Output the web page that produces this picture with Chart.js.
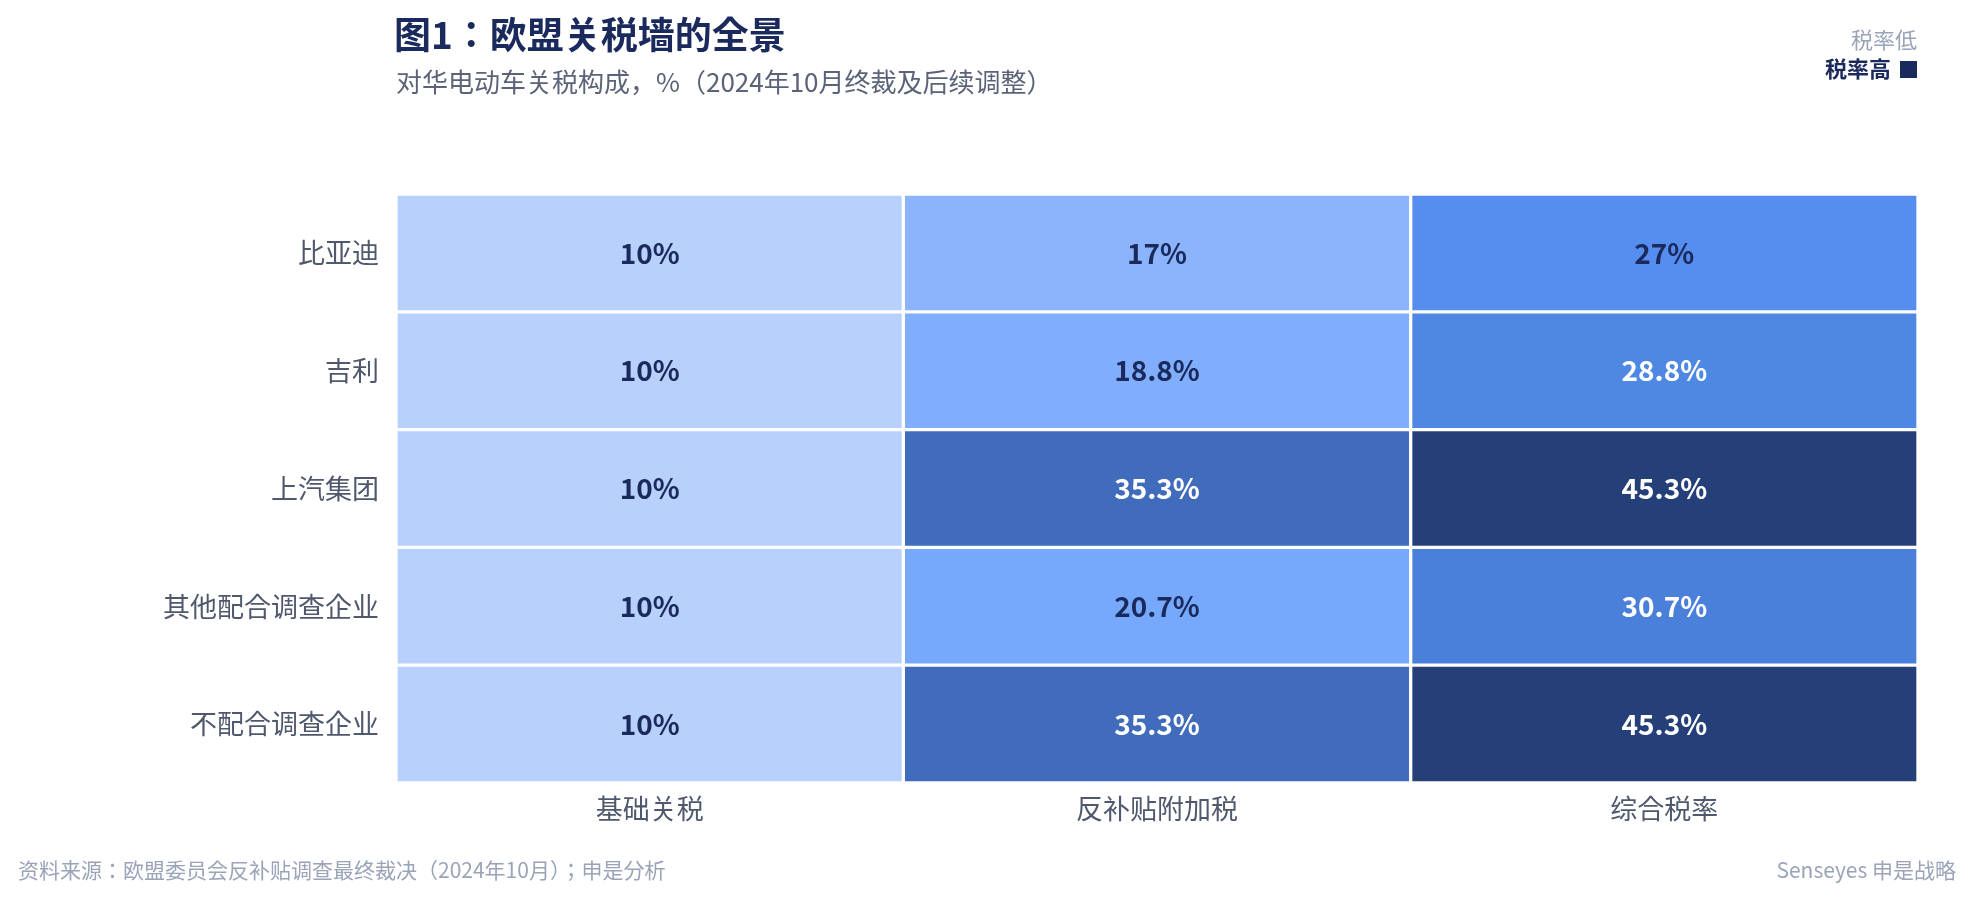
<!DOCTYPE html><html><head><meta charset="utf-8">
<script src="https://cdn.jsdelivr.net/npm/chart.js@4"></script>
<style>
body{margin:0;background:#fff;font-family:"Noto Sans CJK JP","Noto Sans",sans-serif;}
#wrap{position:relative;width:1976px;height:901px;}
.t{position:absolute;white-space:nowrap;}
</style></head><body>
<div id="wrap"><canvas id="c" width="1976" height="901"></canvas>
<div class="t" style="left:394px;top:6px;font-size:37px;font-weight:700;color:#1b2a5c;">图1：欧盟关税墙的全景</div>
<div class="t" style="left:396px;top:62px;font-size:26px;color:#5b6378;">对华电动车关税构成，%（2024年10月终裁及后续调整）</div>
<div class="t" style="right:59px;top:22px;font-size:22px;color:#9aa3b8;">税率低</div>
<div class="t" style="right:59px;top:51px;font-size:22px;font-weight:700;color:#1b2a5c;">税率高 <span style="display:inline-block;width:17px;height:17px;background:#1b2a5c;vertical-align:-1px;margin-left:4px"></span></div>
<div class="t" style="left:18px;top:854px;font-size:21px;color:#9aa3b8;">资料来源：欧盟委员会反补贴调查最终裁决（2024年10月）；申是分析</div>
<div class="t" style="right:20px;top:854px;font-size:21px;color:#9aa3b8;">Senseyes 申是战略</div>
</div>
<script>
const companies=["比亚迪","吉利","上汽集团","其他配合调查企业","不配合调查企业"];
const columns=["基础关税","反补贴附加税","综合税率"];
const baseTariff=[10,10,10,10,10];
const subsidyTariff=[17,18.8,35.3,20.7,35.3];
const totalTariff=[27,28.8,45.3,30.7,45.3];
const seriesVals=[baseTariff,subsidyTariff,totalTariff];
const colorStops={10:"#b7d0fc",17:"#8bb4fc",18.8:"#80aefc",20.7:"#76a9fb",27:"#568ef0",28.8:"#4f88e3",30.7:"#4a80da",35.3:"#416bbb",45.3:"#253f78"};
const fmt=v=>v+"%";
const datasets=seriesVals.map((vals,ci)=>({
  label:columns[ci],
  data:vals.map(()=>[ci,ci+1]),
  vals:vals,
  backgroundColor:vals.map(v=>colorStops[v]),
  borderColor:"#ffffff",borderWidth:2,borderSkipped:false,
  barPercentage:1,categoryPercentage:1,grouped:false
}));
const labelPlugin={id:"lbl",afterDatasetsDraw(ch){
  const ctx=ch.ctx;ctx.save();ctx.textAlign="center";ctx.textBaseline="middle";
  ctx.font='700 28px "Noto Sans CJK JP","Noto Sans",sans-serif';
  ch.data.datasets.forEach((ds,di)=>{ch.getDatasetMeta(di).data.forEach((el,i)=>{
    const v=ds.vals[i];const p=el.getCenterPoint();
    ctx.fillStyle=v>=28?"#ffffff":"#1b2a5c";ctx.fillText(fmt(v),p.x,p.y);});});
  ctx.restore();}};
new Chart(document.getElementById("c"),{type:"bar",
 data:{labels:companies,datasets},
 options:{indexAxis:"y",responsive:false,animation:false,
  layout:{padding:{top:194,right:58,bottom:0,left:0}},
  plugins:{legend:{display:false},tooltip:{enabled:false}},
  scales:{
   x:{type:"linear",min:0,max:3,grid:{display:false},border:{display:false},
      afterBuildTicks(s){s.ticks=[0.5,1.5,2.5].map(v=>({value:v}));},
      afterFit(s){s.height=118;},
      ticks:{padding:2,color:"#4f586c",font:{size:27,family:'"Noto Sans CJK JP",sans-serif'},callback:v=>columns[Math.floor(v)]}},
   y:{grid:{display:false},border:{display:false},afterFit(s){s.width=396;},
      ticks:{padding:9,color:"#4f586c",font:{size:27,family:'"Noto Sans CJK JP",sans-serif'}}}
  }},plugins:[labelPlugin]});
</script></body></html>
